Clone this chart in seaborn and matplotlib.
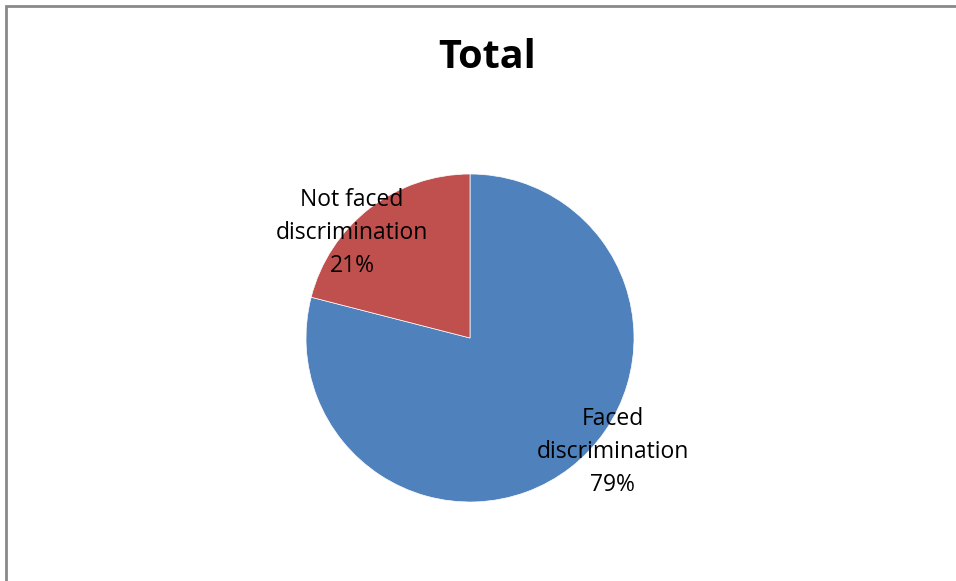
import matplotlib
matplotlib.use("Agg")
import matplotlib.pyplot as plt
import seaborn as sns

labels = ["Faced\ndiscrimination\n79%", "Not faced\ndiscrimination\n21%"]
values = [79, 21]
colors = ["#4F81BD", "#C0504D"]

sns.set_style("white")
plt.rcParams["font.family"] = ["Open Sans", "DejaVu Sans"]

fig = plt.figure(figsize=(9.56, 5.81), dpi=100)

# gray chart border (right/bottom edges cut off like in the reference)
fig.patches.append(plt.Rectangle((6 / 956, -0.05), 1.1, (581 - 6) / 581 + 0.05,
                                 transform=fig.transFigure, fill=False,
                                 edgecolor="#898989", linewidth=2))

r = 164
ax = fig.add_axes([(470 - r) / 956, (243 - r) / 581, 2 * r / 956, 2 * r / 581])
ax.pie(values, colors=colors, startangle=90, counterclock=False,
       wedgeprops=dict(edgecolor="white", linewidth=0.5))
ax.set_xlim(-1, 1)
ax.set_ylim(-1, 1)
ax.set_aspect("equal")
ax.axis("off")

ax.text(0.87, -0.695, labels[0], ha="center", va="center", fontsize=16.5,
        linespacing=1.5, color="black")
ax.text(-0.72, 0.64, labels[1], ha="center", va="center", fontsize=16.5,
        linespacing=1.5, color="black")

fig.text(487 / 956, 1 - 57 / 581, "Total", ha="center", va="center",
         fontsize=28.5, fontweight="bold", color="black")

fig.savefig("out.png", dpi=100)
